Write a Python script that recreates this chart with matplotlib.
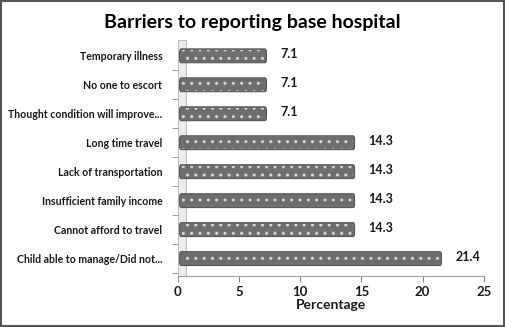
import matplotlib
matplotlib.use("Agg")
import matplotlib.pyplot as plt
from matplotlib.patches import Rectangle, FancyBboxPatch

categories = [
    "Child able to manage/Did not...",
    "Cannot afford to travel",
    "Insufficient family income",
    "Lack of transportation",
    "Long time travel",
    "Thought condition will improve...",
    "No one to escort",
    "Temporary illness",
]
values = [21.4, 14.3, 14.3, 14.3, 14.3, 7.1, 7.1, 7.1]
xticks = [0, 5, 10, 15, 20, 25]

INK = "#1a1a1a"
BAR = "#6e6e6e"
FONT = ["Lato", "DejaVu Sans"]

fig = plt.figure(figsize=(5.05, 3.27), dpi=100)
fig.patch.set_facecolor("white")
ax = fig.add_axes([0.352, 0.156, 0.606, 0.722])

ypos = list(range(len(categories)))
h = 0.48
for y, v in zip(ypos, values):
    # body of the bar
    ax.add_patch(FancyBboxPatch((0.15, y - h / 2), v, h,
                                boxstyle="round,pad=0,rounding_size=0.12",
                                facecolor=BAR, edgecolor="#505050",
                                linewidth=0.7, zorder=2))
    # white dotted texture
    ax.add_patch(Rectangle((0.25, y - h / 2 + 0.04), v - 0.2, h - 0.08,
                           facecolor="none", edgecolor="#d6d6d6",
                           hatch="..", linewidth=0, zorder=3))
    ax.annotate(f"{v:.1f}", (v + 0.15, y), xytext=(10, 1),
                textcoords="offset points", ha="left", va="center",
                fontsize=9, fontweight="bold", color=INK, family=FONT)

# thin 3D side wall
ax.add_patch(Rectangle((0, -0.6), 0.65, len(categories) + 0.15,
                       facecolor="#ececec", edgecolor="#b0b0b0",
                       linewidth=0.6, zorder=1, clip_on=False))

ax.set_xlim(0, 25)
ax.set_ylim(-0.6, len(categories) - 0.45)
ax.set_xticks(xticks)
ax.set_xticklabels([str(t) for t in xticks], fontsize=9.5,
                   fontweight="bold", color=INK, family=FONT)
ax.set_yticks(ypos)
ax.set_yticklabels(categories, fontsize=7.6, fontweight="bold",
                   color=INK, family=FONT)
ax.set_yticks([y + 0.5 for y in ypos[:-1]] + [-0.5], minor=True)
ax.tick_params(axis="y", which="major", length=0, pad=11)
ax.tick_params(axis="y", which="minor", length=4, color="#888888")
ax.tick_params(axis="x", length=4, color="#888888", pad=3)

for side in ("top", "right", "left"):
    ax.spines[side].set_visible(False)
ax.spines["bottom"].set_color("#a0a0a0")

ax.set_xlabel("Percentage", fontsize=10, fontweight="bold", color=INK,
              family=FONT, labelpad=1)
fig.text(0.5, 0.932, "Barriers to reporting base hospital", ha="center",
         va="center", fontsize=14, fontweight="bold", color="black", family=FONT)

# outer frame
fig.add_artist(Rectangle((0.002, 0.003), 0.996, 0.994, transform=fig.transFigure,
                         facecolor="none", edgecolor="#555555", linewidth=1.5))

fig.savefig("out.png", dpi=100, facecolor="white")
